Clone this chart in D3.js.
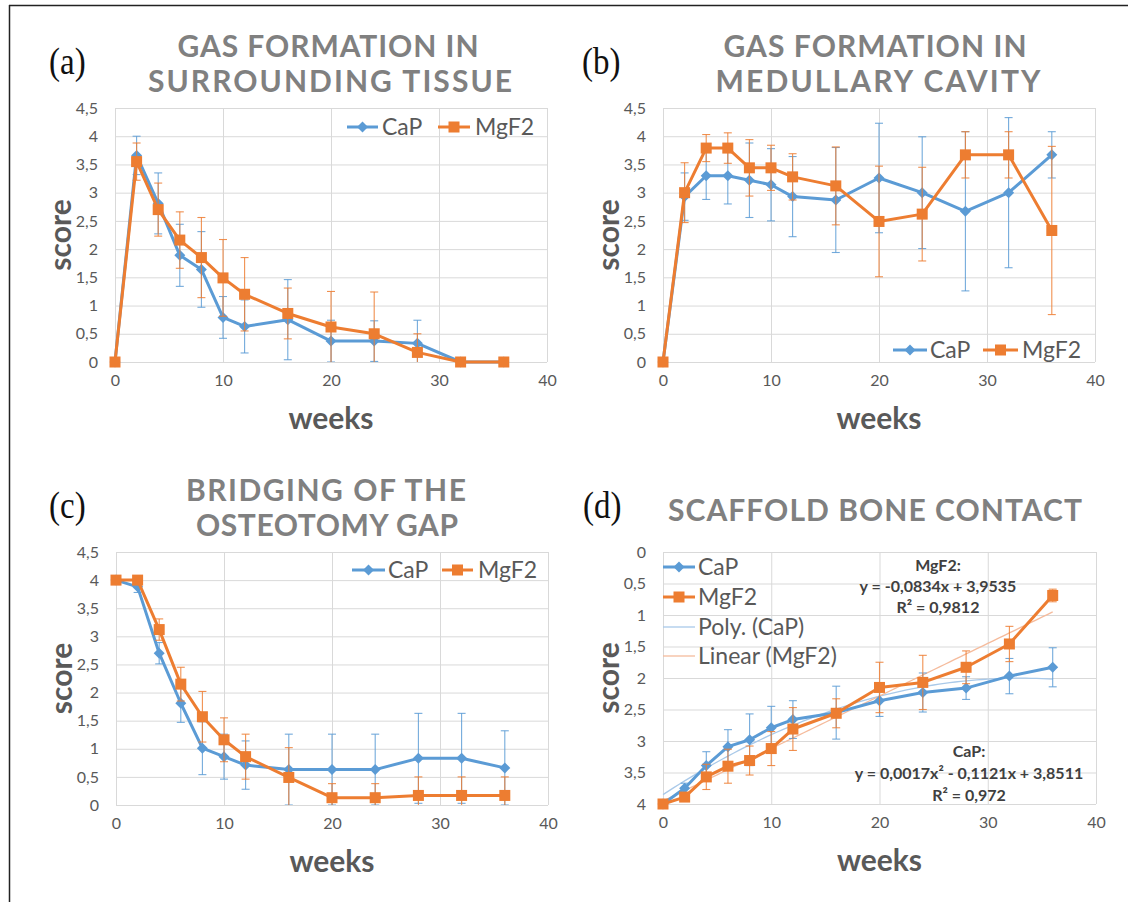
<!DOCTYPE html>
<html><head><meta charset="utf-8">
<script src="https://cdn.jsdelivr.net/npm/d3@7"></script>
<style>body{margin:0;background:#fff} svg{display:block}</style>
</head><body><svg id="c" width="1128" height="902"></svg>
<script>
// ---------------- data ----------------
const weeks = [0, 2, 4, 6, 8, 10, 12, 16, 20, 24, 28, 32, 36];
const xTicks = [0, 10, 20, 30, 40];
const yTicks45 = [0, 0.5, 1, 1.5, 2, 2.5, 3, 3.5, 4, 4.5];
const yTicks4 = [0, 0.5, 1, 1.5, 2, 2.5, 3, 3.5, 4];
const seriesNames = ["CaP", "MgF2"];

// (a) gas formation in surrounding tissue
const tissueCaP     = [0, 3.66, 2.81, 1.89, 1.64, 0.79, 0.63, 0.75, 0.37, 0.37, 0.33, 0, 0];
const tissueCaPErr  = [0, 0.34, 0.54, 0.55, 0.67, 0.37, 0.47, 0.71, 0.37, 0.36, 0.41, 0, 0];
const tissueMgF2    = [0, 3.55, 2.70, 2.16, 1.85, 1.49, 1.20, 0.86, 0.62, 0.50, 0.17, 0, 0];
const tissueMgF2Err = [0, 0.33, 0.47, 0.50, 0.71, 0.68, 0.65, 0.45, 0.63, 0.74, 0.33, 0, 0];

// (b) gas formation in medullary cavity
const cavityCaP     = [0, 2.93, 3.30, 3.30, 3.22, 3.14, 2.93, 2.87, 3.26, 3.00, 2.67, 3.00, 3.67];
const cavityCaPErr  = [0, 0.42, 0.42, 0.50, 0.66, 0.64, 0.71, 0.93, 0.97, 0.99, 1.41, 1.33, 0.41];
const cavityMgF2    = [0, 3.00, 3.79, 3.79, 3.44, 3.44, 3.28, 3.12, 2.49, 2.62, 3.67, 3.67, 2.33];
const cavityMgF2Err = [0, 0.53, 0.24, 0.27, 0.50, 0.40, 0.41, 0.69, 0.98, 0.83, 0.41, 0.41, 1.49];

// (c) bridging of the osteotomy gap
const bridgingCaP     = [4, 3.88, 2.70, 1.81, 1.01, 0.86, 0.71, 0.63, 0.63, 0.63, 0.83, 0.83, 0.66];
const bridgingCaPErr  = [0, 0.10, 0.19, 0.34, 0.47, 0.40, 0.43, 0.63, 0.63, 0.63, 0.80, 0.80, 0.66];
const bridgingMgF2    = [4, 4, 3.12, 2.15, 1.57, 1.16, 0.86, 0.49, 0.13, 0.13, 0.17, 0.17, 0.17];
const bridgingMgF2Err = [0, 0, 0.19, 0.30, 0.45, 0.39, 0.40, 0.53, 0.25, 0.25, 0.33, 0.33, 0.33];

// (d) scaffold bone contact
const contactCaP     = [4, 3.75, 3.39, 3.09, 2.98, 2.79, 2.66, 2.55, 2.36, 2.23, 2.16, 1.97, 1.83];
const contactCaPErr  = [0, 0.08, 0.22, 0.27, 0.41, 0.34, 0.30, 0.42, 0.25, 0.31, 0.18, 0.28, 0.31];
const contactMgF2    = [4, 3.89, 3.57, 3.40, 3.31, 3.12, 2.81, 2.56, 2.15, 2.07, 1.83, 1.46, 0.69];
const contactMgF2Err = [0, 0.05, 0.20, 0.27, 0.23, 0.27, 0.34, 0.23, 0.40, 0.43, 0.26, 0.28, 0.10];

// trendlines printed on panel (d)
const polyCaPCoef = [3.8511, -0.1121, 0.0017];   // c0 + c1 x + c2 x^2
const linMgF2Coef = [3.9535, -0.0834];           // c0 + c1 x
const trendLabels = ["Poly. (CaP)", "Linear (MgF2)"];
const eqMgF2 = ["MgF2:", "y = -0,0834x + 3,9535", "R² = 0,9812"];
const eqCaP  = ["CaP:", "y = 0,0017x² - 0,1121x + 3,8511", "R² = 0,972"];

// ---------------- drawing ----------------
const COL = {CaP: "#5b9bd5", MgF2: "#ed7d31"};
const FONT = "Lato, 'Open Sans', sans-serif";
const svg = d3.select("#c");
const fmt = d => String(d).replace(".", ",");

// outer frame
svg.append("line").attr("x1", 9).attr("x2", 1128).attr("y1", 5.5).attr("y2", 5.5).attr("stroke", "#222").attr("stroke-width", 1.5);
svg.append("line").attr("x1", 9.5).attr("x2", 9.5).attr("y1", 5).attr("y2", 902).attr("stroke", "#222").attr("stroke-width", 1.5);

const panels = [
  {id: "a", letter: "(a)", lx: 49, ly: 62, L: 115, T: 108, W: 432, H: 254, yDom: [0, 4.5], yTicks: yTicks45, rev: false,
   title: [["GAS FORMATION IN", 46, 328, 301], ["SURROUNDING TISSUE", 81, 330, 364]],
   caP: tissueCaP, caPErr: tissueCaPErr, mg: tissueMgF2, mgErr: tissueMgF2Err,
   legend: {type: "row", y: 127, items: [[347, 378, 382], [438, 470, 475]]}},
  {id: "b", letter: "(b)", lx: 582, ly: 62, L: 663, T: 108, W: 432, H: 254, yDom: [0, 4.5], yTicks: yTicks45, rev: false,
   title: [["GAS FORMATION IN", 46, 875, 303], ["MEDULLARY CAVITY", 81, 878, 325]],
   caP: cavityCaP, caPErr: cavityCaPErr, mg: cavityMgF2, mgErr: cavityMgF2Err,
   legend: {type: "row", y: 350, items: [[893, 927, 930], [983, 1018, 1022]]}},
  {id: "c", letter: "(c)", lx: 49, ly: 506, L: 116, T: 552, W: 432, H: 253, yDom: [0, 4.5], yTicks: yTicks45, rev: false,
   title: [["BRIDGING OF THE", 490, 326, 280], ["OSTEOTOMY GAP", 525, 327, 262]],
   caP: bridgingCaP, caPErr: bridgingCaPErr, mg: bridgingMgF2, mgErr: bridgingMgF2Err,
   legend: {type: "row", y: 570, items: [[352, 385, 388], [442, 473, 478]]}},
  {id: "d", letter: "(d)", lx: 583, ly: 506, L: 663, T: 552, W: 433, H: 252, yDom: [0, 4], yTicks: yTicks4, rev: true,
   title: [["SCAFFOLD BONE CONTACT", 510, 875, 414]],
   caP: contactCaP, caPErr: contactCaPErr, mg: contactMgF2, mgErr: contactMgF2Err,
   legend: {type: "col"}}
];

const diamond = r => `M0,${-r}L${r},0L0,${r}L${-r},0Z`;

panels.forEach(p => {
  const g = svg.append("g").attr("class", "panel-" + p.id);
  const x = d3.scaleLinear().domain([0, 40]).range([p.L, p.L + p.W]);
  const y = d3.scaleLinear().domain(p.yDom).range(p.rev ? [p.T, p.T + p.H] : [p.T + p.H, p.T]);

  // panel letter (slightly tall serif)
  g.append("text").attr("transform", `translate(${p.lx},${p.ly}) scale(1,1.18)`).attr("dy", "0.3em").text(p.letter)
    .attr("font-family", "'Liberation Serif', 'Times New Roman', serif").attr("font-size", 33).attr("fill", "#111");

  // title
  p.title.forEach(([t, cy, cx, w]) => {
    g.append("text").attr("x", cx).attr("y", cy + 10.8).attr("text-anchor", "middle")
      .attr("font-family", FONT).attr("font-weight", 700).attr("font-size", 30).attr("fill", "#808080")
      .attr("textLength", w).attr("lengthAdjust", "spacing").text(t);
  });

  // grid
  g.append("g").attr("transform", `translate(${p.L},0)`)
    .call(d3.axisLeft(y).tickValues(p.yTicks).tickSize(-p.W).tickFormat(""))
    .call(s => s.select(".domain").remove())
    .selectAll("line").attr("stroke", "#d9d9d9").attr("stroke-width", 1);
  g.append("g").attr("transform", `translate(0,${p.T})`)
    .call(d3.axisBottom(x).tickValues(xTicks).tickSize(p.H).tickFormat(""))
    .call(s => s.select(".domain").remove())
    .selectAll("line").attr("stroke", "#d9d9d9").attr("stroke-width", 1);

  // axes labels
  const ya = g.append("g").attr("transform", `translate(${p.L},0)`)
    .call(d3.axisLeft(y).tickValues(p.yTicks).tickSize(0).tickPadding(17).tickFormat(fmt));
  ya.select(".domain").remove();
  ya.selectAll("text").attr("font-family", FONT).attr("font-size", 16).attr("fill", "#595959");
  const xa = g.append("g").attr("transform", `translate(0,${p.T + p.H})`)
    .call(d3.axisBottom(x).tickValues(xTicks).tickSize(0).tickPadding(13).tickFormat(fmt));
  xa.select(".domain").remove();
  xa.selectAll("text").attr("font-family", FONT).attr("font-size", 16).attr("fill", "#595959");

  // axis titles
  g.append("text").attr("transform", `translate(${p.L - 53},${p.T + p.H / 2}) rotate(-90)`)
    .attr("text-anchor", "middle").attr("dy", "0.3em")
    .attr("font-family", FONT).attr("font-weight", 700).attr("font-size", 30).attr("fill", "#595959").text("score");
  g.append("text").attr("x", p.L + p.W / 2).attr("y", p.T + p.H + 58).attr("dy", "0.3em")
    .attr("text-anchor", "middle")
    .attr("font-family", FONT).attr("font-weight", 700).attr("font-size", 30).attr("fill", "#595959").text("weeks");

  // clip for error bars
  const clipId = "clip-" + p.id;
  svg.append("clipPath").attr("id", clipId).append("rect")
    .attr("x", p.L - 10).attr("y", p.T).attr("width", p.W + 20).attr("height", p.H);

  // trendlines (panel d)
  if (p.id === "d") {
    const xs = d3.range(0, 36.01, 0.5);
    const poly = xs.map(v => [v, polyCaPCoef[0] + polyCaPCoef[1] * v + polyCaPCoef[2] * v * v]);
    const lin = xs.map(v => [v, linMgF2Coef[0] + linMgF2Coef[1] * v]);
    const tl = d3.line().x(d => x(d[0])).y(d => y(d[1]));
    g.append("path").attr("d", tl(poly)).attr("fill", "none").attr("stroke", "#a9c9e9").attr("stroke-width", 1.3);
    g.append("path").attr("d", tl(lin)).attr("fill", "none").attr("stroke", "#f5bb9c").attr("stroke-width", 1.3);
  }

  const series = [
    {name: "CaP", vals: p.caP, errs: p.caPErr},
    {name: "MgF2", vals: p.mg, errs: p.mgErr}
  ];
  series.forEach(s => {
    const data = weeks.map((w, i) => ({w, v: s.vals[i], e: s.errs[i]}));
    const c = COL[s.name];
    const eb = g.append("g").attr("clip-path", `url(#${clipId})`).attr("stroke", c).attr("stroke-width", 1.1).attr("stroke-opacity", 0.85);
    data.filter(d => d.e > 0).forEach(d => {
      const y1 = y(d.v - d.e), y2 = y(d.v + d.e), xx = x(d.w);
      eb.append("line").attr("x1", xx).attr("x2", xx).attr("y1", y1).attr("y2", y2);
      eb.append("line").attr("x1", xx - 4).attr("x2", xx + 4).attr("y1", y1).attr("y2", y1);
      eb.append("line").attr("x1", xx - 4).attr("x2", xx + 4).attr("y1", y2).attr("y2", y2);
    });
    g.append("path").datum(data)
      .attr("d", d3.line().x(d => x(d.w)).y(d => y(d.v)))
      .attr("fill", "none").attr("stroke", c).attr("stroke-width", 3).attr("stroke-linejoin", "round");
    if (s.name === "CaP") {
      g.selectAll(null).data(data).enter().append("path")
        .attr("transform", d => `translate(${x(d.w)},${y(d.v)})`).attr("d", diamond(5.5)).attr("fill", c);
    } else {
      g.selectAll(null).data(data).enter().append("rect")
        .attr("x", d => x(d.w) - 5.5).attr("y", d => y(d.v) - 5.5).attr("width", 11).attr("height", 11).attr("fill", c);
    }
  });

  // legends
  const legendText = (xx, yy, t) => g.append("text").attr("x", xx).attr("y", yy).attr("dy", "0.35em")
    .attr("font-family", FONT).attr("font-size", 23).attr("fill", "#595959").text(t);
  const sample = (x1, x2, yy, name, kind) => {
    const c = COL[name];
    if (kind === "trend") {
      g.append("line").attr("x1", x1).attr("x2", x2).attr("y1", yy).attr("y2", yy)
        .attr("stroke", name === "CaP" ? "#a9c9e9" : "#f5bb9c").attr("stroke-width", 1.3);
      return;
    }
    g.append("line").attr("x1", x1).attr("x2", x2).attr("y1", yy).attr("y2", yy).attr("stroke", c).attr("stroke-width", 3);
    const m = (x1 + x2) / 2;
    if (name === "CaP") g.append("path").attr("transform", `translate(${m},${yy})`).attr("d", diamond(5.5)).attr("fill", c);
    else g.append("rect").attr("x", m - 5.5).attr("y", yy - 5.5).attr("width", 11).attr("height", 11).attr("fill", c);
  };
  if (p.legend.type === "row") {
    p.legend.items.forEach(([x1, x2, tx], i) => {
      sample(x1, x2, p.legend.y, seriesNames[i], "series");
      legendText(tx, p.legend.y, seriesNames[i]);
    });
  } else {
    const rows = [567, 597, 627, 656];
    sample(663, 695, rows[0], "CaP", "series"); legendText(698, rows[0], seriesNames[0]);
    sample(663, 695, rows[1], "MgF2", "series"); legendText(698, rows[1], seriesNames[1]);
    sample(663, 695, rows[2], "CaP", "trend"); legendText(698, rows[2], trendLabels[0]);
    sample(663, 695, rows[3], "MgF2", "trend"); legendText(698, rows[3], trendLabels[1]);
    const eq = (lines, cx, ys) => lines.forEach((t, i) =>
      g.append("text").attr("x", cx).attr("y", ys[i]).attr("dy", "0.35em").attr("text-anchor", "middle")
        .attr("font-family", FONT).attr("font-weight", 700).attr("font-size", 16).attr("fill", "#404040").text(t));
    eq(eqMgF2, 938, [565, 586, 607]);
    eq(eqCaP, 969, [751, 773, 795]);
  }
});
</script></body></html>
